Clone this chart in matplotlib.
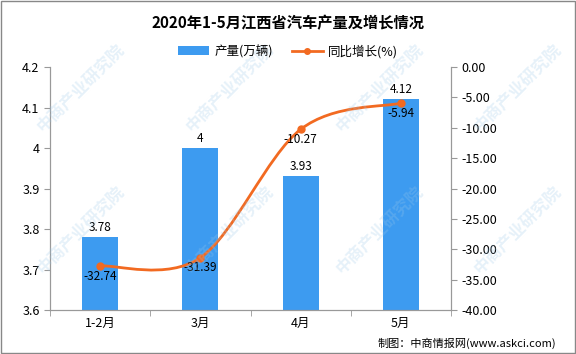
import numpy as np
import matplotlib.pyplot as plt
from matplotlib.path import Path
from matplotlib.patches import PathPatch, Rectangle

plt.rcParams['font.family'] = ['Noto Sans CJK SC', 'DejaVu Sans']

categories = ['1-2月', '3月', '4月', '5月']
output = [3.78, 4, 3.93, 4.12]
growth = [-32.74, -31.39, -10.27, -5.94]
output_labels = ['3.78', '4', '3.93', '4.12']
growth_labels = ['-32.74', '-31.39', '-10.27', '-5.94']

bar_color = '#3d9bf0'
line_color = '#f26a21'

fig = plt.figure(figsize=(5.76, 3.54), dpi=100)
ax = fig.add_axes([50 / 576, 44 / 354, 401 / 576, 243 / 354])
ax2 = ax.twinx()

x = np.arange(len(categories))
bars = ax.bar(x, output, width=0.36, color=bar_color, zorder=2, label='产量(万辆)')
ax.set_ylim(3.6, 4.2)
ax.set_xlim(-0.5, len(categories) - 0.5)
ax.set_yticks(np.arange(3.6, 4.21, 0.1))
ax.set_yticklabels(['3.6', '3.7', '3.8', '3.9', '4', '4.1', '4.2'])
ax.set_xticks(x)
ax.set_xticklabels(categories)
ax.set_xticks(np.arange(-0.5, len(categories), 1), minor=True)
ax.tick_params(axis='x', which='major', length=0, labelsize=9, pad=5)
ax.tick_params(axis='x', which='minor', length=4, color='#999999')
ax.tick_params(axis='y', length=4, color='#999999', labelsize=9)
for i, v in enumerate(output):
    ax.text(x[i], v + 0.008, output_labels[i], ha='center', va='bottom', fontsize=8.5)

# smooth line via bezier segments (catmull-rom control points)
ax2.set_ylim(-40, 0)
pts = [ax2.transData.transform((xi, yi)) for xi, yi in zip(x, growth)]
verts = [tuple(pts[0])]
codes = [Path.MOVETO]
n = len(pts)
for i in range(n - 1):
    p0 = np.array(pts[max(i - 1, 0)])
    p1 = np.array(pts[i])
    p2 = np.array(pts[i + 1])
    p3 = np.array(pts[min(i + 2, n - 1)])
    c1 = p1 + (p2 - p0) / 6
    c2 = p2 - (p3 - p1) / 6
    verts += [tuple(c1), tuple(c2), tuple(p2)]
    codes += [Path.CURVE4] * 3
inv = ax2.transData.inverted()
verts = [tuple(inv.transform(v)) for v in verts]
ax2.add_patch(PathPatch(Path(verts, codes), fill=False, edgecolor=line_color, lw=2, zorder=3))
ax2.plot(x, growth, 'o', color=line_color, ms=5, zorder=4)
for i, v in enumerate(growth):
    ax2.text(x[i], v - 0.6, growth_labels[i], ha='center', va='top', fontsize=8.5)
ax2.set_yticks(np.arange(-40, 0.1, 5))
ax2.set_yticklabels(['%.2f' % t for t in np.arange(-40, 0.1, 5)])
ax2.tick_params(axis='y', length=4, color='#999999', labelsize=9)

for a in (ax, ax2):
    a.spines['top'].set_visible(False)
    for s in ('left', 'right', 'bottom'):
        a.spines[s].set_color('#999999')

# legend
line_handle, = ax.plot([], [], color=line_color, lw=2, marker='o', ms=4)
fig.legend([bars, line_handle], ['产量(万辆)', '同比增长(%)'], loc='center',
           bbox_to_anchor=(0.5, 0.855), ncol=2, frameon=False,
           fontsize=9, handlelength=2.5, columnspacing=1.5, handletextpad=0.4)

fig.text(0.5, 0.935, '2020年1-5月江西省汽车产量及增长情况', ha='center', va='center',
         fontsize=11, fontweight='bold')
fig.text(0.965, 0.03, '制图：中商情报网(www.askci.com)', ha='right', va='center', fontsize=8)

# watermark
for wx, wy in [(0.14, 0.75), (0.4, 0.75), (0.66, 0.75), (0.9, 0.75),
               (0.14, 0.35), (0.4, 0.35), (0.66, 0.35), (0.9, 0.35)]:
    fig.text(wx, wy, '中商产业研究院', rotation=45, ha='center', va='center',
             fontsize=12, color='#9cc8e8', alpha=0.25, fontweight='bold')

fig.patches.append(Rectangle((0.002, 0.003), 0.996, 0.994, transform=fig.transFigure,
                             fill=False, edgecolor='#888888', lw=1))

fig.savefig('out.png', dpi=100)
